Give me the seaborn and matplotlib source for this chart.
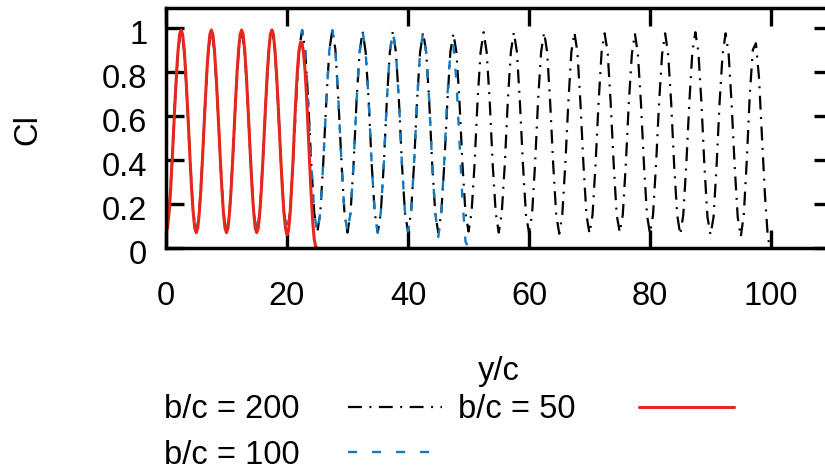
import numpy as np
import pandas as pd
import matplotlib
matplotlib.use("Agg")
import matplotlib.pyplot as plt
import matplotlib.transforms as mtransforms
import seaborn as sns

# ---- data ----
x_200 = np.arange(0, 100.01, 0.5)
cl_200 = [
    0.07, 0.16, 0.39, 0.67, 0.90, 0.99, 0.90, 0.67, 0.39, 0.16,
    0.07, 0.16, 0.39, 0.67, 0.90, 0.99, 0.90, 0.67, 0.39, 0.16,
    0.07, 0.16, 0.39, 0.67, 0.90, 0.99, 0.90, 0.67, 0.39, 0.16,
    0.07, 0.16, 0.39, 0.67, 0.90, 0.99, 0.90, 0.67, 0.39, 0.16,
    0.07, 0.16, 0.39, 0.67, 0.90, 0.99, 0.90, 0.67, 0.39, 0.16,
    0.07, 0.16, 0.39, 0.67, 0.90, 0.99, 0.90, 0.67, 0.39, 0.16,
    0.07, 0.16, 0.38, 0.67, 0.89, 0.985, 0.89, 0.67, 0.38, 0.16,
    0.07, 0.16, 0.38, 0.67, 0.89, 0.985, 0.89, 0.67, 0.38, 0.16,
    0.075, 0.16, 0.38, 0.67, 0.89, 0.98, 0.89, 0.67, 0.38, 0.16,
    0.07, 0.16, 0.38, 0.66, 0.89, 0.975, 0.89, 0.67, 0.38, 0.16,
    0.075, 0.16, 0.38, 0.67, 0.89, 0.98, 0.89, 0.67, 0.38, 0.16,
    0.07, 0.16, 0.38, 0.67, 0.89, 0.98, 0.89, 0.66, 0.38, 0.15,
    0.07, 0.15, 0.38, 0.67, 0.89, 0.98, 0.89, 0.66, 0.38, 0.15,
    0.065, 0.15, 0.38, 0.66, 0.89, 0.98, 0.89, 0.66, 0.38, 0.15,
    0.065, 0.15, 0.38, 0.66, 0.89, 0.975, 0.89, 0.66, 0.38, 0.15,
    0.07, 0.15, 0.38, 0.66, 0.88, 0.975, 0.88, 0.66, 0.38, 0.15,
    0.065, 0.15, 0.38, 0.66, 0.88, 0.975, 0.88, 0.66, 0.37, 0.15,
    0.06, 0.15, 0.38, 0.66, 0.89, 0.98, 0.89, 0.66, 0.37, 0.14,
    0.06, 0.14, 0.37, 0.66, 0.88, 0.975, 0.88, 0.65, 0.37, 0.14,
    0.05, 0.15, 0.40, 0.70, 0.90, 0.93, 0.78, 0.51, 0.24, 0.04, 0.00,
]

x_100 = np.arange(0, 50.01, 0.5)
cl_100 = [
    0.07, 0.16, 0.39, 0.67, 0.90, 0.99, 0.90, 0.67, 0.39, 0.16,
    0.07, 0.16, 0.39, 0.67, 0.90, 0.99, 0.90, 0.67, 0.39, 0.16,
    0.07, 0.16, 0.39, 0.67, 0.90, 0.99, 0.90, 0.67, 0.39, 0.16,
    0.07, 0.16, 0.39, 0.67, 0.90, 0.99, 0.90, 0.67, 0.39, 0.16,
    0.07, 0.16, 0.39, 0.67, 0.90, 0.99, 0.90, 0.67, 0.39, 0.16,
    0.07, 0.16, 0.39, 0.67, 0.90, 0.99, 0.90, 0.67, 0.39, 0.16,
    0.07, 0.16, 0.38, 0.67, 0.89, 0.985, 0.89, 0.67, 0.38, 0.16,
    0.07, 0.16, 0.38, 0.67, 0.89, 0.985, 0.89, 0.67, 0.38, 0.16,
    0.075, 0.16, 0.38, 0.67, 0.89, 0.98, 0.89, 0.67, 0.38, 0.16,
    0.05, 0.15, 0.40, 0.69, 0.89, 0.92, 0.76, 0.49, 0.22, 0.03, 0.00,
]

x_50 = np.arange(0, 25.01, 0.25)
cl_50 = [
    0.07, 0.09, 0.16, 0.26, 0.39, 0.53, 0.67, 0.80, 0.90, 0.97,
    0.99, 0.97, 0.90, 0.80, 0.67, 0.53, 0.39, 0.26, 0.16, 0.09,
    0.07, 0.09, 0.16, 0.26, 0.39, 0.53, 0.67, 0.80, 0.90, 0.97,
    0.99, 0.97, 0.90, 0.80, 0.67, 0.53, 0.39, 0.26, 0.16, 0.09,
    0.07, 0.09, 0.16, 0.26, 0.39, 0.53, 0.67, 0.80, 0.90, 0.97,
    0.99, 0.97, 0.90, 0.80, 0.67, 0.53, 0.39, 0.26, 0.16, 0.09,
    0.07, 0.09, 0.16, 0.26, 0.39, 0.53, 0.67, 0.80, 0.90, 0.97,
    0.99, 0.97, 0.90, 0.80, 0.67, 0.53, 0.39, 0.26, 0.16, 0.09,
    0.06, 0.08, 0.15, 0.27, 0.40, 0.56, 0.70, 0.82, 0.90, 0.935,
    0.93, 0.88, 0.80, 0.68, 0.53, 0.38, 0.24, 0.12, 0.04, 0.005, 0.00,
]

labels = ["b/c = 200", "b/c = 100", "b/c = 50"]
x_ticks = [0, 20, 40, 60, 80, 100]
y_ticks = [0, 0.2, 0.4, 0.6, 0.8, 1]
y_tick_labels = ["0", "0.2", "0.4", "0.6", "0.8", "1"]

# ---- style ----
sns.set_style("ticks")
plt.rcParams['font.family'] = ['Liberation Sans', 'DejaVu Sans']
plt.rcParams['text.color'] = 'black'
plt.rcParams['axes.labelcolor'] = 'black'
plt.rcParams['xtick.color'] = 'black'
plt.rcParams['ytick.color'] = 'black'
plt.rcParams['lines.scale_dashes'] = False

FS = 23.5
fig = plt.figure(figsize=(8.25, 4.72), dpi=100)
ax = fig.add_axes([166 / 825, 1 - 248 / 472, 665.5 / 825, 240 / 472])

df200 = pd.DataFrame({"y/c": x_200, "Cl": cl_200})
df100 = pd.DataFrame({"y/c": x_100, "Cl": cl_100})
df50 = pd.DataFrame({"y/c": x_50, "Cl": cl_50})

sns.lineplot(data=df200, x="y/c", y="Cl", ax=ax, color="black", linewidth=1.6,
             estimator=None, legend=False, sort=False)
h200 = ax.get_lines()[-1]
h200.set_dashes((10, 5.4, 1.4, 5.4))
sns.lineplot(data=df100, x="y/c", y="Cl", ax=ax, color="#1479be", linewidth=1.7,
             estimator=None, legend=False, sort=False)
h100 = ax.get_lines()[-1]
h100.set_dashes((6.5, 10.8))
sns.lineplot(data=df50, x="y/c", y="Cl", ax=ax, color="#e8261c", linewidth=2.2,
             estimator=None, legend=False, sort=False)
h50 = ax.get_lines()[-1]
h50.set_solid_joinstyle('round')

ax.set_xlim(0, 110)
ax.set_ylim(0, 1.09)
ax.set_xticks(x_ticks)
ax.set_yticks(y_ticks)
ax.set_yticklabels(y_tick_labels)
ax.tick_params(axis='both', direction='in', length=13, width=2.4,
               top=True, right=True, labelsize=FS)
ax.tick_params(axis='x', pad=24)
ax.tick_params(axis='y', pad=13.5)
for sp in ax.spines.values():
    sp.set_linewidth(2.5)
    sp.set_color('black')

shift = mtransforms.ScaledTranslation(0, -4 / 100, fig.dpi_scale_trans)
for lab in ax.get_yticklabels():
    lab.set_transform(lab.get_transform() + shift)

ax.set_xlabel("y/c", fontsize=FS)
ax.set_ylabel("Cl", fontsize=FS)
ax.xaxis.label.set_va('center')
ax.yaxis.label.set_va('center')
ax.yaxis.label.set_ha('center')
ax.xaxis.set_label_coords(0.5, (248 - 371.5) / 240)
ax.yaxis.set_label_coords((28 - 166) / 665.5, 0.5 - 2 / 240)

common = dict(loc="upper left", frameon=False, fontsize=FS, markerfirst=False,
              handlelength=2.9, borderpad=0, borderaxespad=0, labelspacing=0.45)
fig.legend([h200, h100], labels[:2], bbox_to_anchor=(164 / 825, 1 - 394 / 472),
           handletextpad=1.47, **common)
fig.legend([h50], labels[2:], bbox_to_anchor=(458 / 825, 1 - 394 / 472),
           handletextpad=1.96, **common)

fig.savefig("out.png", dpi=100)
